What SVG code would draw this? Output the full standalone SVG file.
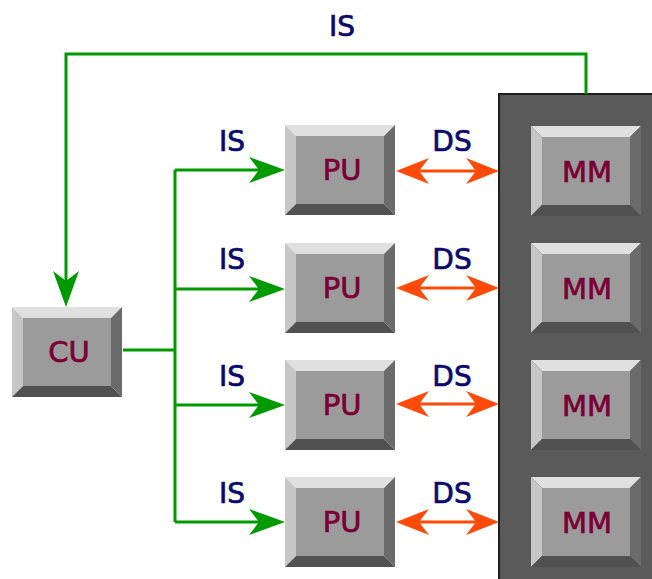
<svg xmlns="http://www.w3.org/2000/svg" xmlns:xlink="http://www.w3.org/1999/xlink" width="652" height="579" viewBox="0 0 652 579">
<style>
.lbl{font-family:"DejaVu Sans",Verdana,sans-serif;font-size:28px;fill:#0a0a6e;stroke:#0a0a6e;stroke-width:0.7px;text-anchor:middle}
.ntx{font-family:"DejaVu Sans",Verdana,sans-serif;font-size:29px;fill:#7a0036;stroke:#7a0036;stroke-width:0.7px;text-anchor:middle}
.g{fill:none;stroke:#009a00;stroke-width:3}
.o{fill:none;stroke:#ff4a0a;stroke-width:3}
</style>
<defs>
<marker id="ag" markerUnits="userSpaceOnUse" viewBox="0 0 36 26" markerWidth="36" markerHeight="26" refX="10" refY="13" orient="auto">
<path d="M0,0 L36,13 L0,26 L10,13 Z" fill="#009a00"/>
</marker>
<marker id="ao" markerUnits="userSpaceOnUse" viewBox="0 0 33 26" markerWidth="33" markerHeight="26" refX="10" refY="13" orient="auto-start-reverse">
<path d="M0,0 L33,13 L0,26 L10,13 Z" fill="#ff4a0a"/>
</marker>
<g id="bev">
<polygon points="0,0 110,0 99,11 11,11" fill="#e0e0e0"/>
<polygon points="0,0 11,11 11,79 0,90" fill="#c6c6c6"/>
<polygon points="110,0 110,90 99,79 99,11" fill="#6b6b6b"/>
<polygon points="0,90 110,90 99,79 11,79" fill="#515151"/>
<rect x="11" y="11" width="88" height="68" fill="#9b9b9b"/>
</g>
</defs>
<rect width="652" height="579" fill="#ffffff"/>
<rect id="panel" x="499" y="94" width="170" height="500" fill="#5a5a5a" stroke="#1e1e1e" stroke-width="2"/>
<g id="connectors">
<path class="g" d="M586,94 V54 H66 V281" marker-end="url(#ag)"/>
<path class="g" d="M123,350 H175 M175,170 V522"/>
<path class="g" d="M175,170 H259" marker-end="url(#ag)"/>
<path class="g" d="M175,289 H259" marker-end="url(#ag)"/>
<path class="g" d="M175,405 H259" marker-end="url(#ag)"/>
<path class="g" d="M175,522 H259" marker-end="url(#ag)"/>
<path class="o" d="M419,171 H476" marker-start="url(#ao)" marker-end="url(#ao)"/>
<path class="o" d="M419,288 H476" marker-start="url(#ao)" marker-end="url(#ao)"/>
<path class="o" d="M419,404 H476" marker-start="url(#ao)" marker-end="url(#ao)"/>
<path class="o" d="M419,522 H476" marker-start="url(#ao)" marker-end="url(#ao)"/>
<text class="lbl" x="342" y="36">IS</text>
<text class="lbl" x="232" y="151">IS</text>
<text class="lbl" x="232" y="269">IS</text>
<text class="lbl" x="232" y="386">IS</text>
<text class="lbl" x="232" y="503">IS</text>
<text class="lbl" x="452" y="151">DS</text>
<text class="lbl" x="452" y="269">DS</text>
<text class="lbl" x="452" y="386">DS</text>
<text class="lbl" x="452" y="503">DS</text>
</g>
<g id="cu"><use xlink:href="#bev" x="12" y="307"/><text class="ntx" x="69" y="362">CU</text></g>
<g id="pu1"><use xlink:href="#bev" x="285" y="125"/><text class="ntx" x="342" y="180">PU</text></g>
<g id="pu2"><use xlink:href="#bev" x="285" y="243"/><text class="ntx" x="342" y="298">PU</text></g>
<g id="pu3"><use xlink:href="#bev" x="285" y="360"/><text class="ntx" x="342" y="415">PU</text></g>
<g id="pu4"><use xlink:href="#bev" x="285" y="477"/><text class="ntx" x="342" y="532">PU</text></g>
<g id="mm1"><use xlink:href="#bev" x="531" y="126"/><text class="ntx" x="587" y="182">MM</text></g>
<g id="mm2"><use xlink:href="#bev" x="531" y="243"/><text class="ntx" x="587" y="299">MM</text></g>
<g id="mm3"><use xlink:href="#bev" x="531" y="360"/><text class="ntx" x="587" y="416">MM</text></g>
<g id="mm4"><use xlink:href="#bev" x="531" y="477"/><text class="ntx" x="587" y="533">MM</text></g>
</svg>
